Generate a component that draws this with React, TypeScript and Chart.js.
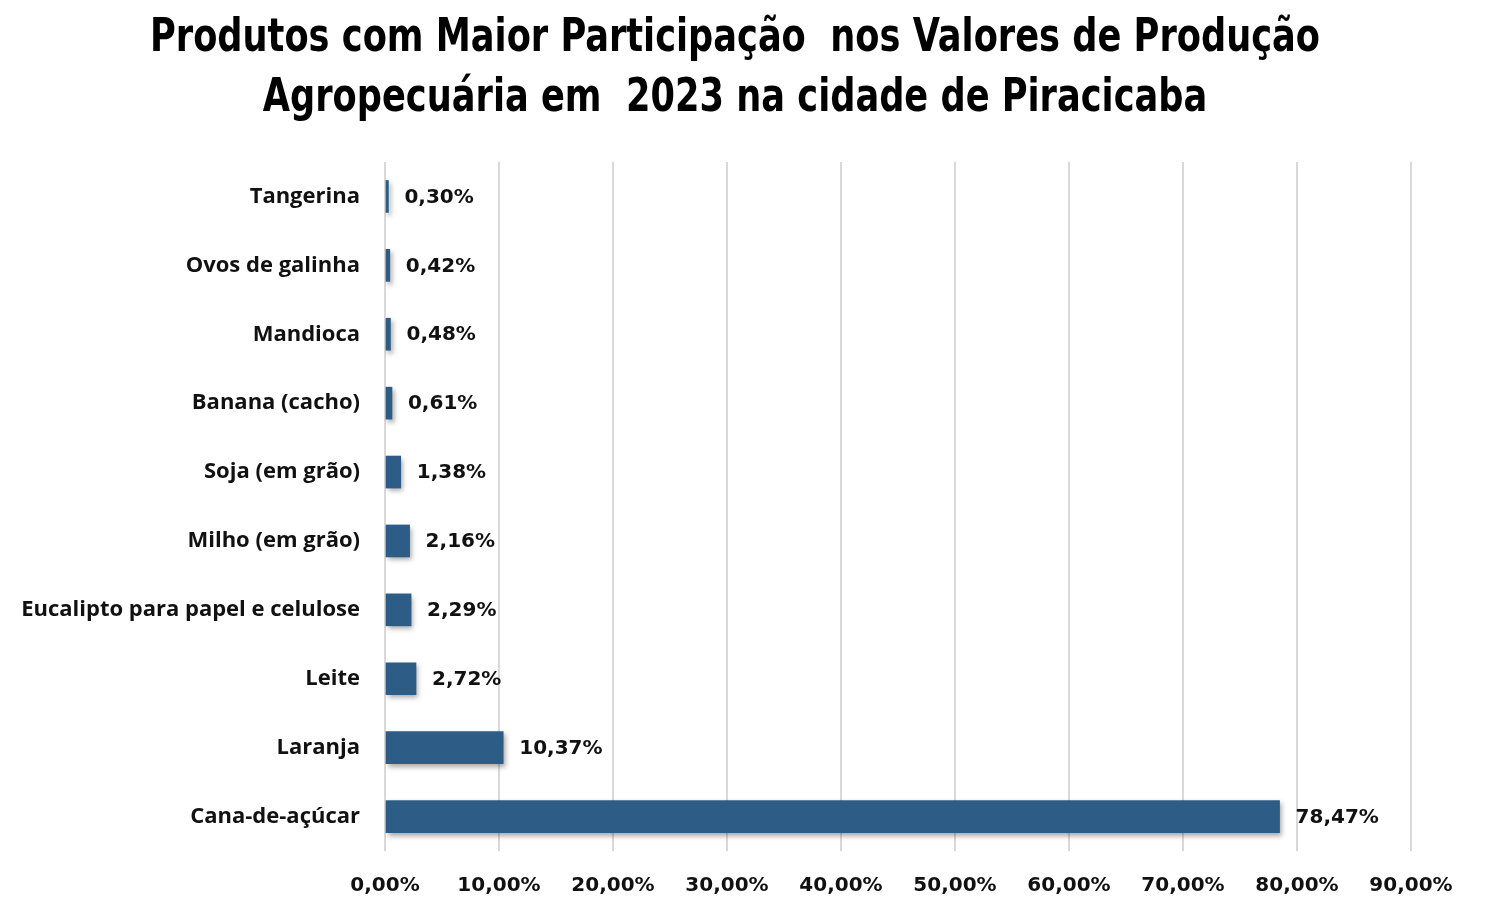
import React, { useEffect, useRef } from "react";
import { Chart, registerables } from "chart.js";

Chart.register(...registerables);

const categories = [
  "Tangerina",
  "Ovos de galinha",
  "Mandioca",
  "Banana (cacho)",
  "Soja (em grão)",
  "Milho (em grão)",
  "Eucalipto para papel e celulose",
  "Leite",
  "Laranja",
  "Cana-de-açúcar",
];
const values = [0.3, 0.42, 0.48, 0.61, 1.38, 2.16, 2.29, 2.72, 10.37, 78.47];
const titleLines = [
  "Produtos com Maior Participação  nos Valores de Produção",
  "Agropecuária em  2023 na cidade de Piracicaba",
];
const xMin = 0;
const xMax = 90;
const xStep = 10;

const fmt = (v: number) => v.toFixed(2).replace(".", ",") + "%";

const LABEL_FONT = "'Open Sans', 'Noto Sans', sans-serif";
const NUM_FONT = "'DejaVu Sans', sans-serif";
const TITLE_FONT = "'DejaVu Sans Condensed', 'Liberation Sans', sans-serif";

export default function App() {
  const ref = useRef<HTMLCanvasElement | null>(null);
  useEffect(() => {
    document.body.style.margin = "0";
    const canvas = ref.current!;
    const titlePlugin = {
      id: "customTitle",
      afterDraw(chart: any) {
        const ctx = chart.ctx;
        ctx.save();
        ctx.font = `bold 46px ${TITLE_FONT}`;
        ctx.fillStyle = "#000";
        ctx.textAlign = "center";
        ctx.textBaseline = "alphabetic";
        const w1 = ctx.measureText(titleLines[0]).width;
        const sx = 1170 / w1;
        const cx = 735;
        const baselines = [51, 111];
        titleLines.forEach((line, i) => {
          ctx.save();
          ctx.translate(cx, baselines[i]);
          ctx.scale(sx, 1);
          ctx.fillText(line, 0, 0);
          ctx.restore();
        });
        ctx.restore();
      },
    };
    const shadowPlugin = {
      id: "barShadow",
      beforeDatasetsDraw(chart: any) {
        const ctx = chart.ctx;
        ctx.save();
        ctx.shadowColor = "rgba(0,0,0,0.35)";
        ctx.shadowBlur = 5;
        ctx.shadowOffsetX = 2;
        ctx.shadowOffsetY = 3;
      },
      afterDatasetsDraw(chart: any) {
        chart.ctx.restore();
      },
    };
    const labelPlugin = {
      id: "valueLabels",
      afterDatasetsDraw(chart: any) {
        const ctx = chart.ctx;
        const meta = chart.getDatasetMeta(0);
        ctx.save();
        ctx.font = `bold 20px ${NUM_FONT}`;
        ctx.fillStyle = "#111";
        ctx.textAlign = "left";
        ctx.textBaseline = "middle";
        meta.data.forEach((bar: any, i: number) => {
          ctx.fillText(fmt(values[i]), bar.x + 16, bar.y + 1);
        });
        ctx.restore();
      },
    };
    const chart = new Chart(canvas, {
      type: "bar",
      data: {
        labels: categories,
        datasets: [
          {
            data: values,
            backgroundColor: "#2D5D86",
            barThickness: 32,
          },
        ],
      },
      options: {
        indexAxis: "y",
        animation: false,
        responsive: false,
        maintainAspectRatio: false,
        layout: { padding: { left: 0, right: 77, top: 162, bottom: 0 } },
        plugins: {
          legend: { display: false },
          tooltip: { enabled: false },
          title: { display: false },
        },
        scales: {
          x: {
            min: xMin,
            max: xMax,
            grid: { color: "#d9d9d9", lineWidth: 2, drawTicks: true, tickLength: 0 },
            border: { display: false },
            afterFit(scale: any) {
              scale.height = 60;
            },
            ticks: {
              stepSize: xStep,
              color: "#111",
              padding: 23,
              font: { family: NUM_FONT, size: 20, weight: "bold" },
              callback: (v: any) => fmt(Number(v)),
            },
          },
          y: {
            grid: { display: false },
            border: { display: false },
            afterFit(scale: any) {
              scale.width = 385;
            },
            ticks: {
              color: "#111",
              padding: 17,
              font: { family: LABEL_FONT, size: 22, weight: "bold" },
            },
          },
        },
      },
      plugins: [shadowPlugin, labelPlugin, titlePlugin],
    });
    return () => chart.destroy();
  }, []);
  return (
    <div style={{ width: 1488, height: 911, background: "#fff" }}>
      <canvas ref={ref} width={1488} height={911} style={{ display: "block" }} />
    </div>
  );
}
